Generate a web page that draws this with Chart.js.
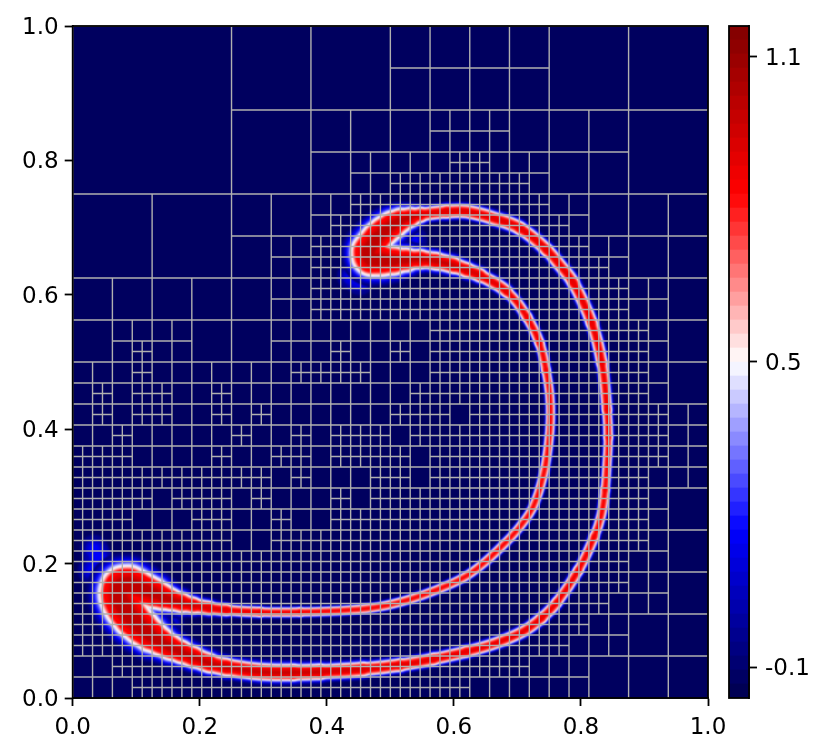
<!DOCTYPE html>
<html>
<head>
<meta charset="utf-8">
<script src="https://cdn.jsdelivr.net/npm/chart.js@4"></script>
<style>
  html, body { margin: 0; padding: 0; background: #fff; }
  #wrap { position: relative; width: 830px; height: 756px; overflow: hidden; }
  canvas { position: absolute; top: 0; }
</style>
</head>
<body>
<div id="wrap">
  <canvas id="field" width="830" height="756" style="left:0"></canvas>
  <canvas id="bar" width="110" height="756" style="left:720px"></canvas>
</div>
<script>
// refinement level of the mesh, one char per 1/32 block, top row first
const meshLevels = [
  '22222222333333334444444433333333',
  '22222222333333334444444433333333',
  '22222222333333334444444433333333',
  '22222222333333334444444433333333',
  '22222222333344444455554444443333',
  '22222222333344444455554444443333',
  '22222222333344555556655544443333',
  '22222222333344556666666544443333',
  '33333333444455666666666655444444',
  '33333333444456666666666665444444',
  '33333333445566666666666666554444',
  '33333333445566666666666666654444',
  '44444444445566666666666666665544',
  '44444444445566666666666666665544',
  '44555544445555555566666666666544',
  '44565544445556556566666666666544',
  '55565555555666655566666666666544',
  '56566556555555555666666666666544',
  '56566556565555556665666666666655',
  '55655555655656665666666666666655',
  '66655556556656666566666666666655',
  '66666666665655566566666666666555',
  '66665666565556566666666666666544',
  '66655566556556666666666666666544',
  '66666666556666666666666666666544',
  '66666666666666666666666666665544',
  '66666666666666666666666666665544',
  '66666666666666666666666666655544',
  '66666666666666666666666666554444',
  '66666666666666666666666665554444',
  '55666666666666666666666555444444',
  '55566666666666666666555555444444'
];

// centre line of the filament, closed loop
const bandX = [
  .589,.620,.662,.704,.746,.767,.788,.817,.833,.841,.843,.841,.838,.832,.821,.796,.762,.738,.709,.667,.620,.568,.515,.457,.389,.347,.295,.242,
  .215,.190,.170,.153,.137,.122,.107,.093,.082,.074,.073,.077,.088,.101,.114,.127,.140,.153,.171,.190,.215,.242,
  .295,.358,.436,.484,.531,.573,.615,.646,.680,.704,.725,.741,.749,.752,.751,.745,.735,.715,.683,.641,
  .620,.599,.572,.547,.525,.505,.486,.468,.465,.471,.479,.489,.502,.515,.531,.547,.568,.589
];
const bandY = [
  .724,.724,.714,.699,.667,.644,.618,.558,.499,.429,.388,.347,.310,.272,.240,.190,.142,.119,.099,.082,.069,.058,.049,.043,.039,.038,.039,.046,
  .052,.061,.069,.076,.085,.094,.106,.119,.134,.148,.158,.166,.169,.166,.161,.156,.151,.147,.142,.138,.134,.131,
  .128,.128,.131,.136,.147,.161,.179,.200,.230,.255,.285,.332,.378,.415,.450,.488,.528,.567,.605,.629,
  .637,.644,.650,.653,.652,.651,.652,.654,.665,.674,.685,.694,.703,.710,.715,.719,.722,.724
];
// filament thickness along the loop, in pixels of the plot
const bandT = [
  11,11,11,10.5,10,10,9.5,9,8,7,6.5,6.5,7,7,7.5,8,8.5,9,9,9,9.5,10,11,12.5,14,15,15,16,
  18,20,22,25,28,33,36,38,40,40,40,38,34,31,30,26,22,19,15,12,10,8,
  7,6.5,6.5,6.5,6.5,6.5,6.5,6.5,6.5,6.5,6.5,6.5,6.5,6.5,6.5,7,7.5,8,10,12,
  13,15,16,18,23,28,32,33,32,30,29,28,24,19,14,11,11,11
];

// blue smears next to the two heads
const smearX = [.034,.040,.047,.030,.153,.438,.452,.536];
const smearY = [.222,.210,.200,.190,.112,.628,.620,.682];

const axisTicks = [0, 0.2, 0.4, 0.6, 0.8, 1];
const barTicks = [-0.1, 0.5, 1.1];
const barLevels = [-0.16,-0.1325,-0.105,-0.0775,-0.05,-0.0225,0.005,0.0325,0.06,0.0875,0.115,0.1425,0.17,0.1975,0.225,0.2525,0.28,0.3075,0.335,0.3625,0.39,0.4175,0.445,0.4725,0.5,0.5275,0.555,0.5825,0.61,0.6375,0.665,0.6925,0.72,0.7475,0.775,0.8025,0.83,0.8575,0.885,0.9125,0.94,0.9675,0.995,1.0225,1.05,1.0775,1.105,1.1325,1.16];

Chart.defaults.font.family = '"DejaVu Sans"';
Chart.defaults.font.size = 23;
Chart.defaults.color = '#000';

// seismic colormap
function seismic(v) {
  const t = (v + 0.16) / 1.32;
  let r, g, b;
  if (t < 0.25) { r = 0; g = 0; b = 0.3 + 0.7 * t / 0.25; }
  else if (t < 0.5) { r = g = (t - 0.25) / 0.25; b = 1; }
  else if (t < 0.75) { r = 1; g = b = 1 - (t - 0.5) / 0.25; }
  else { r = 1 - 0.5 * (t - 0.75) / 0.25; g = 0; b = 0; }
  return `rgb(${Math.round(r * 255)},${Math.round(g * 255)},${Math.round(b * 255)})`;
}

function meshPoints() {
  const pts = [];
  const gap = { x: NaN, y: NaN };
  function cell(c, r, n) {
    // left and top edge is enough, the neighbour draws the rest
    pts.push({ x: c / 32, y: 1 - (r + n) / 32 }, { x: c / 32, y: 1 - r / 32 }, { x: (c + n) / 32, y: 1 - r / 32 }, gap);
  }
  meshLevels.forEach((row, r) => {
    for (let c = 0; c < 32; c++) {
      const level = +row[c];
      if (level === 6) {
        cell(c, r, .5); cell(c + .5, r, .5); cell(c, r + .5, .5); cell(c + .5, r + .5, .5);
      } else {
        const n = Math.pow(2, 5 - level);
        if (r % n === 0 && c % n === 0) cell(c, r, n);
      }
    }
  });
  return pts;
}

const bandPoints = bandX.map((x, i) => ({ x: x, y: bandY[i] }));
const smearPoints = smearX.map((x, i) => ({ x: x, y: smearY[i] }));

// outer to inner, width = k * thickness + c
const bandLayers = [
  [1.6, 2, 'rgb(0,0,125)'],
  [1.45, 2, 'rgb(0,0,175)'],
  [1.32, 1.5, 'rgb(0,0,235)'],
  [1.22, 1, 'rgb(50,50,255)'],
  [1.12, .6, 'rgb(140,140,255)'],
  [1.05, .3, 'rgb(215,215,255)'],
  [1, 0, 'rgb(255,255,255)'],
  [.95, -.5, 'rgb(255,205,205)'],
  [.9, -1, 'rgb(255,120,120)'],
  [.85, -1.8, 'rgb(255,0,0)'],
  [.68, -4, 'rgb(225,0,0)'],
  [.55, -6, 'rgb(190,0,0)']
];

function lineLayer(k, c, color) {
  return {
    data: bandPoints,
    showLine: true,
    pointRadius: 0,
    tension: 0.4,
    borderColor: color,
    borderWidth: 2,
    borderCapStyle: 'round',
    borderJoinStyle: 'round',
    blur: true,
    segment: {
      borderWidth: ctx => Math.max(.01, k * bandT[ctx.p0DataIndex] + c)
    }
  };
}

const fieldSets = [];
[[14, 'rgba(0,0,190,.5)'], [9, 'rgba(0,0,240,.6)'], [5, 'rgba(0,0,255,.8)']].forEach(s => {
  fieldSets.push({ data: smearPoints, showLine: false, pointRadius: s[0], pointBorderWidth: 0, backgroundColor: s[1], blur: true });
});
bandLayers.forEach(l => fieldSets.push(lineLayer(l[0], l[1], l[2])));
fieldSets.push({
  data: meshPoints(),
  showLine: true,
  pointRadius: 0,
  borderColor: '#b0b0b0',
  borderWidth: 1.4,
  spanGaps: false
});
// first dataset is painted last
fieldSets.reverse();

const framePlugin = {
  id: 'frame',
  beforeDatasetsDraw(chart) {
    const a = chart.chartArea;
    if (chart.canvas.id === 'field') {
      chart.ctx.fillStyle = '#00005f';
      chart.ctx.fillRect(a.left, a.top, a.right - a.left, a.bottom - a.top);
    }
  },
  beforeDatasetDraw(chart, args) {
    if (args.meta.controller.getDataset().blur) chart.ctx.filter = 'blur(0.8px)';
  },
  afterDatasetDraw(chart) {
    chart.ctx.filter = 'none';
  },
  afterDraw(chart) {
    const a = chart.chartArea;
    chart.ctx.strokeStyle = '#000';
    chart.ctx.lineWidth = 1.8;
    chart.ctx.strokeRect(a.left, a.top, a.right - a.left, a.bottom - a.top);
  }
};

function tickGrid() {
  return { drawOnChartArea: false, tickLength: 8, tickWidth: 1.8, tickColor: '#000' };
}

new Chart(document.getElementById('field'), {
  type: 'scatter',
  data: { datasets: fieldSets },
  plugins: [framePlugin],
  options: {
    responsive: false,
    animation: false,
    events: [],
    layout: { padding: { top: 26, right: 122, left: 0, bottom: 0 } },
    plugins: { legend: { display: false }, tooltip: { enabled: false } },
    scales: {
      x: {
        type: 'linear', min: 0, max: 1,
        grid: tickGrid(),
        border: { color: '#000', width: 1.8 },
        ticks: { padding: 8, maxRotation: 0, callback: v => v.toFixed(1) },
        afterBuildTicks: s => { s.ticks = axisTicks.map(v => ({ value: v })); },
        afterFit: s => { s.height = 58; }
      },
      y: {
        type: 'linear', min: 0, max: 1,
        grid: tickGrid(),
        border: { color: '#000', width: 1.8 },
        ticks: { padding: 6, labelOffset: 2, callback: v => v.toFixed(1) },
        afterBuildTicks: s => { s.ticks = axisTicks.map(v => ({ value: v })); },
        afterFit: s => { s.width = 72.7; }
      }
    }
  }
});

const barSets = barLevels.slice(0, -1).map((lo, i) => {
  const hi = barLevels[i + 1];
  return { data: [[lo, hi]], backgroundColor: seismic((lo + hi) / 2), barPercentage: 1, categoryPercentage: 1 };
});

new Chart(document.getElementById('bar'), {
  type: 'bar',
  data: { labels: ['level'], datasets: barSets },
  plugins: [framePlugin],
  options: {
    responsive: false,
    animation: false,
    events: [],
    layout: { padding: { top: 26, left: 9, bottom: 58, right: 0 } },
    plugins: { legend: { display: false }, tooltip: { enabled: false } },
    datasets: { bar: { grouped: false } },
    scales: {
      x: { display: false },
      y: {
        position: 'right',
        min: -0.16, max: 1.16,
        grid: tickGrid(),
        border: { color: '#000', width: 1.8 },
        ticks: { padding: 8, labelOffset: 2, callback: v => String(v) },
        afterBuildTicks: s => { s.ticks = barTicks.map(v => ({ value: v })); },
        afterFit: s => { s.width = 81; }
      }
    }
  }
});
</script>
</body>
</html>
